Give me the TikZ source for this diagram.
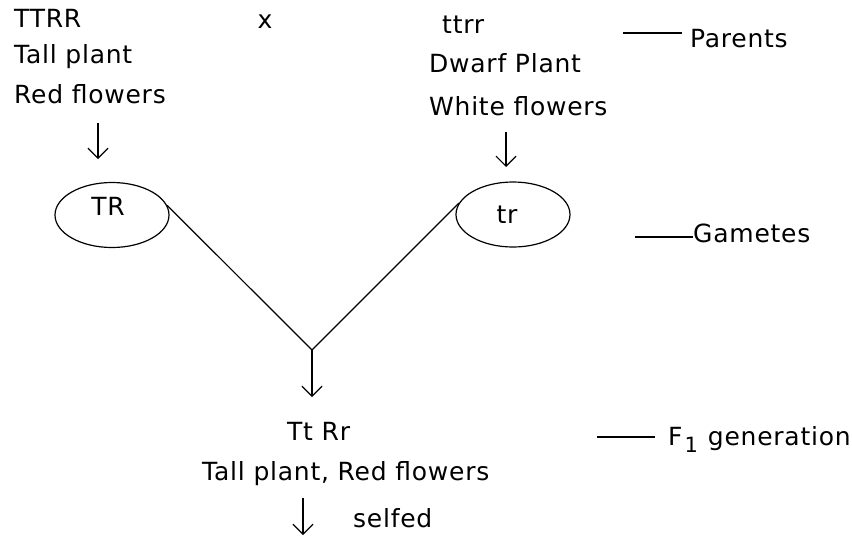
\documentclass[tikz,border=0pt]{standalone}
\usepackage{fontspec}
\setmainfont[LetterSpace=3]{DejaVu Sans}
\usetikzlibrary{shapes.geometric,arrows.meta}
\begin{document}
\begin{tikzpicture}[x=1pt,y=-1pt,
  txt/.style={inner sep=0pt,anchor=base west,font=\fontsize{25}{29}\selectfont},
  ctxt/.style={inner sep=0pt,anchor=base,font=\fontsize{25}{29}\selectfont},
  gam/.style={draw,ellipse,line width=1.2pt,minimum width=114pt,minimum height=65pt,inner sep=0pt},
  arr/.style={line width=1.2pt,-{Straight Barb[length=10pt,width=20pt,line width=1.2pt]}},
  ln/.style={line width=1.2pt}]
\fill[white] (0,0) rectangle (852,536);
\useasboundingbox (0,0) rectangle (852,536);
% left parent
\node[txt] (TTRR) at (14,27) {TTRR};
\node[txt] (tallL) at (14,63) {Tall plant};
\node[txt] (redL) at (14,103) {Red flowers};
\node[ctxt] (cross) at (265,28) {x};
% right parent
\node[txt] (ttrr) at (442,33) {ttrr};
\node[txt] (dwarf) at (429,72) {Dwarf Plant};
\node[txt] (white) at (429,115) {White flowers};
% labels on right
\coordinate (pA) at (623,33); \coordinate (pB) at (682,33);
\node[txt] (parents) at (690,47) {Parents};
\draw[ln] (pA) -- (pB);
\coordinate (gA) at (635,237); \coordinate (gB) at (693,237);
\node[txt] (gametes) at (693,242) {Gametes};
\draw[ln] (gA) -- (gB);
\coordinate (fA) at (597,437); \coordinate (fB) at (655,437);
\node[txt] (f1) at (668,445) {F\hspace{2pt}{\fontsize{21}{24}\selectfont\raisebox{-7pt}{1}}\hspace{10pt}generation};
\draw[ln] (fA) -- (fB);
% arrows to gametes
\coordinate (a1s) at (98,123); \coordinate (a1e) at (98,159);
\draw[arr] (a1s) -- (a1e);
\coordinate (a2s) at (506,132); \coordinate (a2e) at (506,167);
\draw[arr] (a2s) -- (a2e);
% gametes
\node[gam] (TRe) at (112,215) {};
\node[ctxt] (TR) at (108,215) {TR};
\node[gam] (tre) at (513,214.5) {};
\node[ctxt] (tr) at (507,223) {tr};
% fusion
\coordinate (v) at (312,350);
\draw[ln] (TRe.10) -- (v) -- (tre.168);
\coordinate (v2) at (312,397);
\draw[arr] (v) -- (v2);
% F1
\node[txt] (TtRr) at (287,440) {Tt Rr};
\node[txt] (f1ph) at (202,480) {Tall plant, Red flowers};
\coordinate (a3s) at (303,498); \coordinate (a3e) at (303,535);
\draw[arr] (a3s) -- (a3e);
\node[txt] (selfed) at (353,527) {selfed};
\end{tikzpicture}
\end{document}
